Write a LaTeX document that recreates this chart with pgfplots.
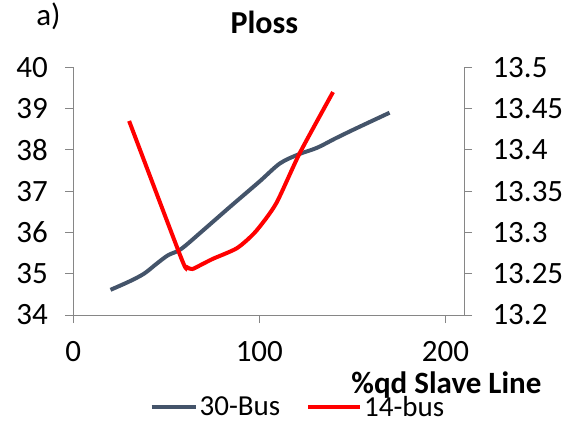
\documentclass[border=0pt]{standalone}
\usepackage{pgfplots}
\pgfplotsset{compat=1.18}
\usepackage{fontspec}
\setmainfont{Carlito}
\definecolor{slate}{HTML}{44546A}
\definecolor{axgray}{HTML}{868686}
\newcommand{\bigf}{\fontsize{31bp}{37bp}\selectfont}
\newcommand{\titf}{\fontsize{32bp}{38bp}\selectfont}
\newcommand{\legf}{\fontsize{29bp}{34bp}\selectfont}
\pgfplotsset{
  legA/.style={legend image code/.code={\draw[##1] (0bp,0bp) -- (44bp,0bp);}},
  legB/.style={legend image code/.code={\draw[##1] (0bp,0bp) -- (52bp,0bp);}},
}
\begin{document}
\begin{tikzpicture}[font=\bigf]
\path[use as bounding box] (-73.3bp,-106bp) rectangle (493.7bp,315bp);
\begin{axis}[
  scale only axis, width=390.7bp, height=247.7bp,
  xmin=0, xmax=210, ymin=34, ymax=40,
  axis y line*=left, axis x line*=bottom,
  axis line style={axgray, line width=1bp, -},
  xtick={0,100,200}, ytick={34,35,...,40},
  tick align=outside, major tick length=8bp,
  tick style={axgray, line width=1bp},
  /pgf/number format/assume math mode=true,
  ticklabel style={font=\bigf},
  yticklabel style={xshift=-14bp},
  xticklabel style={yshift=-15bp},
  title={\textbf{Ploss}},
  title style={at={(axis description cs:0.489,1.157)}, anchor=center, font=\titf},
  xlabel={\textbf{\%qd Slave Line}},
  xlabel style={at={(axis description cs:0.955,-0.283)}, anchor=center, font=\bigf},
  legend columns=2,
  legend style={at={(axis description cs:0.575,-0.371)}, anchor=center, draw=none, fill=none,
    font=\legf, /tikz/every even column/.append style={column sep=24bp}},
]
\addplot[slate, line width=4bp, smooth, tension=0.5, legA] table {
x y
20 34.61
30 34.81
38 35.00
45 35.25
51 35.45
58 35.60
70 36.06
85 36.65
100 37.23
111 37.67
121 37.89
131 38.05
141 38.28
152 38.52
170 38.90
};
\addlegendentry{30-Bus}
\addlegendimage{red, line width=4bp, legB}
\addlegendentry{14-bus}
\end{axis}
\begin{axis}[
  scale only axis, width=390.7bp, height=247.7bp,
  xmin=0, xmax=210, ymin=13.2, ymax=13.5,
  axis y line*=right, axis x line=none,
  axis line style={axgray, line width=1bp, -},
  ytick={13.2,13.25,13.3,13.35,13.4,13.45,13.5},
  yticklabels={13.2,13.25,13.3,13.35,13.4,13.45,13.5},
  tick align=outside, major tick length=8bp,
  tick style={axgray, line width=1bp},
  ticklabel style={font=\bigf},
  yticklabel style={xshift=17bp},
]
\addplot[red, line width=4bp, smooth, tension=0.4] table {
x y
30 13.435
58 13.269
61 13.258
64 13.2557
68 13.2600
75 13.2680
88 13.2810
98 13.3010
109 13.3350
121.7 13.3960
139.6 13.4700
};
\end{axis}
\node at (-24.8bp,299bp) {a)};
\end{tikzpicture}
\end{document}
